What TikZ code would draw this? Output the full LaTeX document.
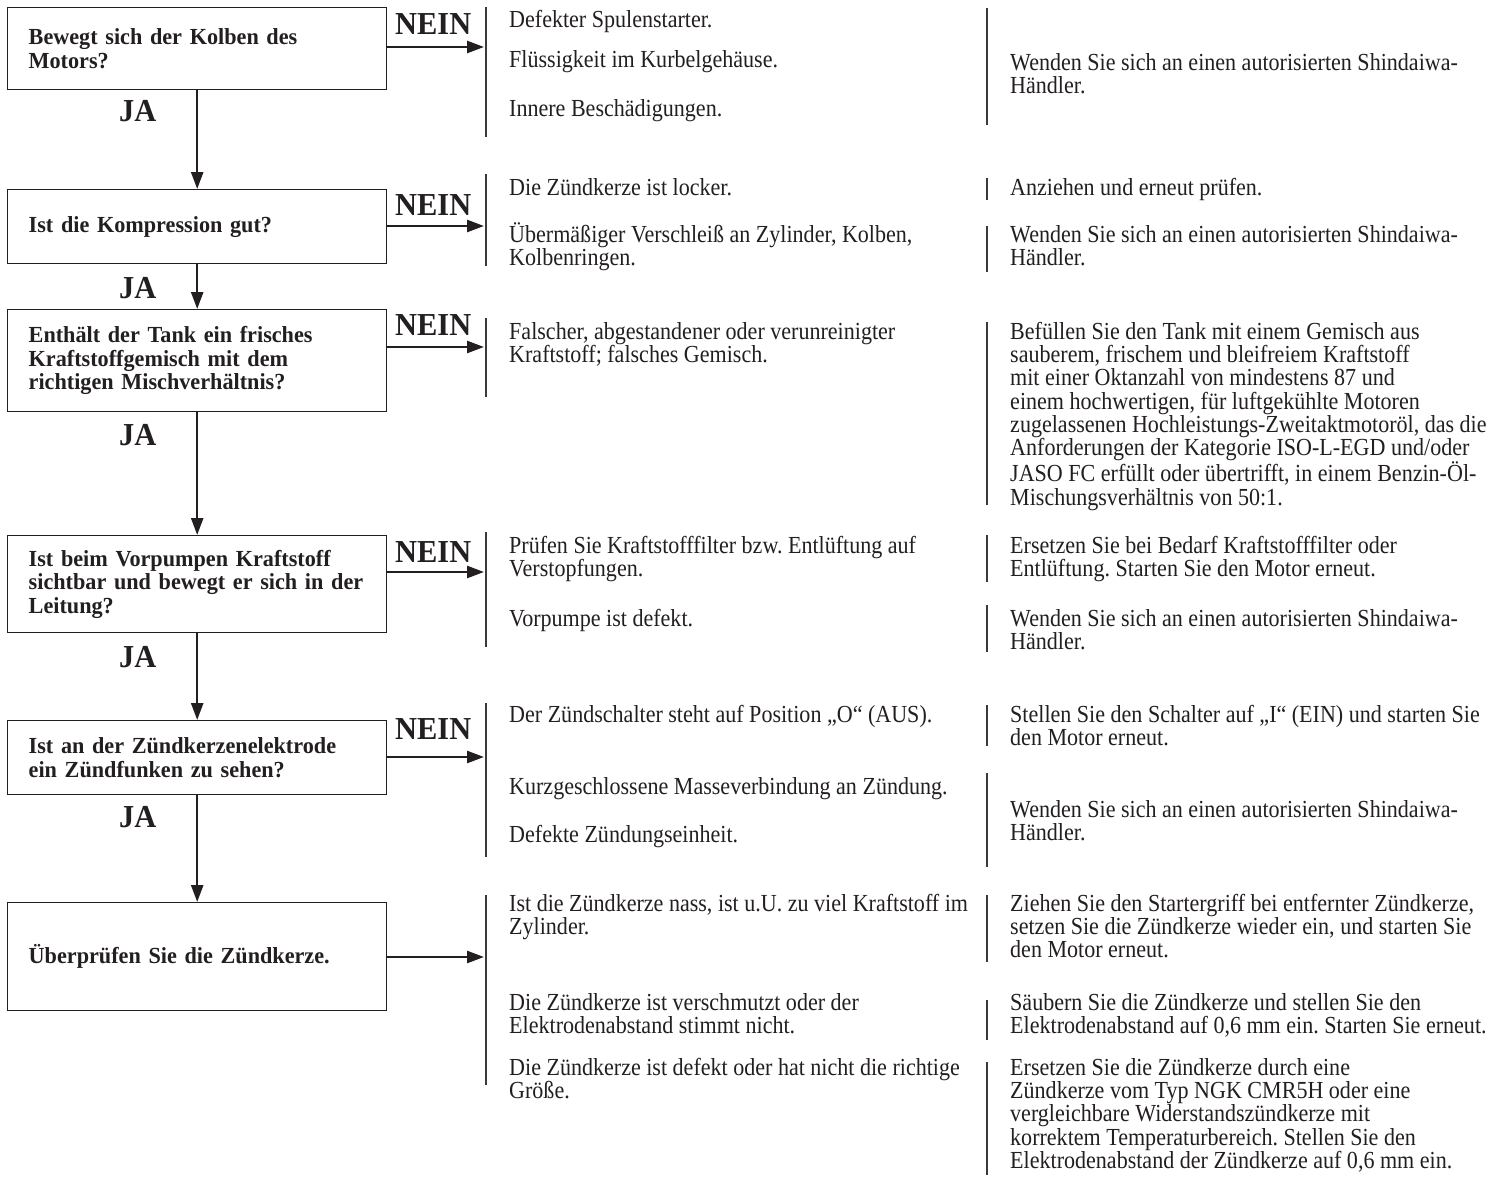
\documentclass[tikz,border=0pt]{standalone}
\usepackage{fontspec}
\setmainfont{Liberation Serif}
\newfontfamily\bodyfam{Liberation Serif}[FakeStretch=0.90]
\newfontfamily\boldfam{Liberation Serif}[FakeStretch=0.965]
\newfontfamily\ynfam{Liberation Serif}[FakeStretch=0.95]
\usetikzlibrary{arrows.meta}
\frenchspacing
\definecolor{ink}{HTML}{231F20}
\definecolor{rulecol}{HTML}{3A3A3A}
\newcommand\tstrut{\rule{0pt}{23pt}}
\tikzset{
  box/.style={draw=ink, line width=1.4pt, anchor=north west, minimum width=379pt,
    text width=337pt, inner xsep=21pt, inner ysep=0pt, align=left,
    font=\boldfam\bfseries\fontsize{23}{23.7}\selectfont, text=ink},
  yn/.style={anchor=base west, inner sep=0pt, font=\ynfam\bfseries\fontsize{32}{32}\selectfont, text=ink},
  body/.style={anchor=north west, inner sep=0pt, align=left, yshift=23pt,
    font=\bodyfam\fontsize{24.5}{23.3}\selectfont\frenchspacing, text=ink},
  sepline/.style={draw=rulecol, line width=1.2pt},
  harr/.style={draw=ink, line width=2.5pt, -{Triangle[length=17pt,width=12pt]}},
  varr/.style={draw=ink, line width=2.5pt, -{Triangle[length=17pt,width=12pt]}},
}
\begin{document}
\begin{tikzpicture}[x=1pt,y=-1pt]
\useasboundingbox[fill=white] (0,0) rectangle (1504,1180);

% ---------- left column: question boxes ----------
\node[box, minimum height=82pt]  (b1) at (7,7)   {Bewegt sich der Kolben des\\Motors?};
\node[box, minimum height=74pt]  (b2) at (7,189) {Ist die Kompression gut?};
\node[box, minimum height=102pt] (b3) at (7,309) {Enthält der Tank ein frisches\\Kraftstoffgemisch mit dem\\richtigen Mischverhältnis?};
\node[box, minimum height=97pt]  (b4) at (7,535) {Ist beim Vorpumpen Kraftstoff\\\mbox{sichtbar und bewegt er sich in der}\\Leitung?};
\node[box, minimum height=74pt]  (b5) at (7,720) {\mbox{Ist an der Zündkerzenelektrode}\\ein Zündfunken zu sehen?};
\node[box, minimum height=108pt] (b6) at (7,902) {Überprüfen Sie die Zündkerze.};

% JA labels
\node[yn] (ja1) at (119,122) {JA};
\node[yn] (ja2) at (119,298) {JA};
\node[yn] (ja3) at (119,445) {JA};
\node[yn] (ja4) at (119,667) {JA};
\node[yn] (ja5) at (119,827) {JA};

% NEIN labels
\node[yn] (ne1) at (395,35)  {NEIN};
\node[yn] (ne2) at (395,215) {NEIN};
\node[yn] (ne3) at (395,335) {NEIN};
\node[yn] (ne4) at (395,562) {NEIN};
\node[yn] (ne5) at (395,739) {NEIN};

% vertical arrows
\draw[varr] (b1.south) -- (b2.north);
\draw[varr] (b2.south) -- (b3.north);
\draw[varr] (b3.south) -- (b4.north);
\draw[varr] (b4.south) -- (b5.north);
\draw[varr] (b5.south) -- (b6.north);

% horizontal arrows to the cause column
\coordinate (t1) at (484,47);
\coordinate (t2) at (484,226);
\coordinate (t3) at (484,347);
\coordinate (t4) at (484,572);
\coordinate (t5) at (484,757);
\coordinate (t6) at (484,957);
\draw[harr] (b1.east |- t1) -- (t1);
\draw[harr] (b2.east |- t2) -- (t2);
\draw[harr] (b3.east |- t3) -- (t3);
\draw[harr] (b4.east |- t4) -- (t4);
\draw[harr] (b5.east |- t5) -- (t5);
\draw[harr] (b6.east |- t6) -- (t6);

% ---------- separators ----------
% cause column
\draw[sepline] (486,7)   -- (486,137);
\draw[sepline] (486,174) -- (486,266);
\draw[sepline] (486,318) -- (486,397);
\draw[sepline] (486,532) -- (486,647);
\draw[sepline] (486,703) -- (486,857);
\draw[sepline] (486,895) -- (486,1085);
% remedy column
\draw[sepline] (987,8)    -- (987,125);
\draw[sepline] (987,178)  -- (987,200);
\draw[sepline] (987,226)  -- (987,272);
\draw[sepline] (987,322)  -- (987,505);
\draw[sepline] (987,535)  -- (987,582);
\draw[sepline] (987,605)  -- (987,652);
\draw[sepline] (987,705)  -- (987,746);
\draw[sepline] (987,773)  -- (987,867);
\draw[sepline] (987,895)  -- (987,962);
\draw[sepline] (987,1000) -- (987,1040);
\draw[sepline] (987,1062) -- (987,1175);

% ---------- cause texts ----------
\node[body] (c11) at (509,27)  {\tstrut Defekter Spulenstarter.};
\node[body] (c12) at (509,67)  {\tstrut Flüssigkeit im Kurbelgehäuse.};
\node[body] (c13) at (509,116) {\tstrut Innere Beschädigungen.};

\node[body] (c21) at (509,195) {\tstrut Die Zündkerze ist locker.};
\node[body] (c22) at (509,242) {\tstrut Übermäßiger Verschleiß an Zylinder, Kolben,\\Kolbenringen.};

\node[body] (c31) at (509,339) {\tstrut Falscher, abgestandener oder verunreinigter\\Kraftstoff; falsches Gemisch.};

\node[body] (c41) at (509,553) {\tstrut Prüfen Sie Kraftstofffilter bzw. Entlüftung auf\\Verstopfungen.};
\node[body] (c42) at (509,626) {\tstrut Vorpumpe ist defekt.};

\node[body] (c51) at (509,722) {\tstrut Der Zündschalter steht auf Position „O“ (AUS).};
\node[body] (c52) at (509,794) {\tstrut Kurzgeschlossene Masseverbindung an Zündung.};
\node[body] (c53) at (509,842) {\tstrut Defekte Zündungseinheit.};

\node[body] (c61) at (509,911)  {\tstrut Ist die Zündkerze nass, ist u.U. zu viel Kraftstoff im\\Zylinder.};
\node[body] (c62) at (509,1010) {\tstrut Die Zündkerze ist verschmutzt oder der\\Elektrodenabstand stimmt nicht.};
\node[body] (c63) at (509,1075) {\tstrut Die Zündkerze ist defekt oder hat nicht die richtige\\Größe.};

% ---------- remedy texts ----------
\node[body] (r11) at (1010,70)  {\tstrut Wenden Sie sich an einen autorisierten Shindaiwa-\\Händler.};
\node[body] (r21) at (1010,195) {\tstrut Anziehen und erneut prüfen.};
\node[body] (r22) at (1010,242) {\tstrut Wenden Sie sich an einen autorisierten Shindaiwa-\\Händler.};
\node[body] (r31) at (1010,339) {\tstrut Befüllen Sie den Tank mit einem Gemisch aus\\sauberem, frischem und bleifreiem Kraftstoff\\mit einer Oktanzahl von mindestens 87 und\\einem hochwertigen, für luftgekühlte Motoren\\zugelassenen Hochleistungs-Zweitaktmotoröl, das die\\Anforderungen der Kategorie ISO-L-EGD und/oder\\JASO FC erfüllt oder übertrifft, in einem Benzin-Öl-\\Mischungsverhältnis von 50:1.};
\node[body] (r41) at (1010,553) {\tstrut Ersetzen Sie bei Bedarf Kraftstofffilter oder\\Entlüftung. Starten Sie den Motor erneut.};
\node[body] (r42) at (1010,626) {\tstrut Wenden Sie sich an einen autorisierten Shindaiwa-\\Händler.};
\node[body] (r51) at (1010,722) {\tstrut Stellen Sie den Schalter auf „I“ (EIN) und starten Sie\\den Motor erneut.};
\node[body] (r52) at (1010,817) {\tstrut Wenden Sie sich an einen autorisierten Shindaiwa-\\Händler.};
\node[body] (r61) at (1010,911)  {\tstrut Ziehen Sie den Startergriff bei entfernter Zündkerze,\\setzen Sie die Zündkerze wieder ein, und starten Sie\\den Motor erneut.};
\node[body] (r62) at (1010,1010) {\tstrut Säubern Sie die Zündkerze und stellen Sie den\\Elektrodenabstand auf 0,6 mm ein. Starten Sie erneut.};
\node[body] (r63) at (1010,1075) {\tstrut Ersetzen Sie die Zündkerze durch eine\\Zündkerze vom Typ NGK CMR5H oder eine\\vergleichbare Widerstandszündkerze mit\\korrektem Temperaturbereich. Stellen Sie den\\Elektrodenabstand der Zündkerze auf 0,6 mm ein.};
\end{tikzpicture}
\end{document}
